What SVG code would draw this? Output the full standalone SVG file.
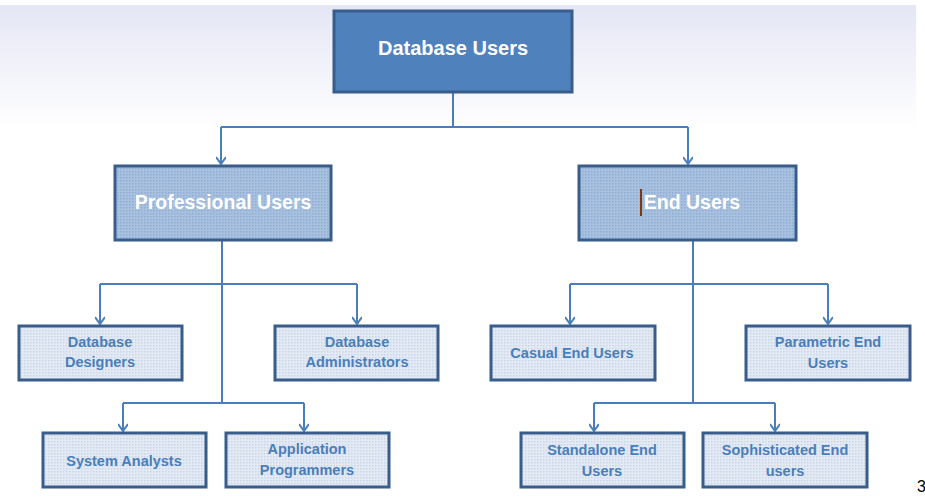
<svg xmlns="http://www.w3.org/2000/svg" width="925" height="500" viewBox="0 0 925 500">
<defs>
<linearGradient id="bg" x1="0" y1="0" x2="0" y2="1">
<stop offset="0" stop-color="#e4e6f5"/>
<stop offset="1" stop-color="#ffffff"/>
</linearGradient>
<pattern id="dotsMid" width="3" height="3" patternUnits="userSpaceOnUse">
<rect width="3" height="3" fill="#a9c1df"/>
<rect width="1.5" height="1.5" fill="#8eadd4"/>
</pattern>
<pattern id="dotsLight" width="3" height="3" patternUnits="userSpaceOnUse">
<rect width="3" height="3" fill="#e3eaf4"/>
<rect width="1.5" height="1.5" fill="#c9d6ea"/>
</pattern>
<marker id="arr" viewBox="0 0 10 10" refX="9" refY="5" markerWidth="10" markerHeight="10" markerUnits="userSpaceOnUse" orient="auto">
<path d="M2,0 L9,5 L2,10" fill="none" stroke="#4a7ebb" stroke-width="2"/>
</marker>
<style>
.top{fill:#4f81bd;stroke:#385d8a;stroke-width:3}
.mid{fill:url(#dotsMid);stroke:#385d8a;stroke-width:3}
.leaf{fill:url(#dotsLight);stroke:#385d8a;stroke-width:3}
.tw{font-family:"Liberation Sans",Arial,sans-serif;font-weight:bold;fill:#ffffff;text-anchor:middle}
.tb{font-family:"Liberation Sans",Arial,sans-serif;font-weight:bold;fill:#4a7ebb;text-anchor:middle;font-size:14.5px}
.c{fill:none;stroke:#4a7ebb;stroke-width:2}
</style>
</defs>
<rect x="0" y="5" width="916" height="125" fill="url(#bg)"/>
<g id="connectors">
<path class="c" d="M453,92 V127"/>
<path class="c" d="M221,127 H688"/>
<path class="c" d="M221,127 V164" marker-end="url(#arr)"/>
<path class="c" d="M688,127 V164" marker-end="url(#arr)"/>
<path class="c" d="M222,240 V403"/>
<path class="c" d="M100,284 H357"/>
<path class="c" d="M100,284 V324" marker-end="url(#arr)"/>
<path class="c" d="M357,284 V324" marker-end="url(#arr)"/>
<path class="c" d="M123,403 H304"/>
<path class="c" d="M123,403 V431" marker-end="url(#arr)"/>
<path class="c" d="M304,403 V431" marker-end="url(#arr)"/>
<path class="c" d="M693,240 V403" stroke-width="2.5"/>
<path class="c" d="M570,284 H828"/>
<path class="c" d="M570,284 V324" marker-end="url(#arr)"/>
<path class="c" d="M828,284 V324" marker-end="url(#arr)"/>
<path class="c" d="M594,403 H775"/>
<path class="c" d="M594,403 V431" marker-end="url(#arr)"/>
<path class="c" d="M775,403 V431" marker-end="url(#arr)"/>
</g>
<g id="database-users">
<rect class="top" x="334" y="11" width="238" height="81"/>
<text class="tw" x="453" y="55" font-size="20">Database Users</text>
</g>
<g id="professional-users">
<rect class="mid" x="115" y="166" width="216" height="74"/>
<text class="tw" x="223" y="209" font-size="19.5">Professional Users</text>
</g>
<g id="end-users">
<rect class="mid" x="579" y="166" width="217" height="74"/>
<line x1="641" y1="189" x2="641" y2="216" stroke="#7a3b12" stroke-width="2"/>
<text class="tw" x="692" y="209" font-size="19.5">End Users</text>
</g>
<g id="database-designers">
<rect class="leaf" x="19" y="326" width="163" height="54"/>
<text class="tb" x="100" y="347">Database</text>
<text class="tb" x="100" y="367">Designers</text>
</g>
<g id="database-administrators">
<rect class="leaf" x="275" y="326" width="163" height="54"/>
<text class="tb" x="357" y="347">Database</text>
<text class="tb" x="357" y="367">Administrators</text>
</g>
<g id="system-analysts">
<rect class="leaf" x="43" y="433" width="163" height="54"/>
<text class="tb" x="124" y="466">System Analysts</text>
</g>
<g id="application-programmers">
<rect class="leaf" x="226" y="433" width="163" height="54"/>
<text class="tb" x="307" y="454">Application</text>
<text class="tb" x="307" y="475">Programmers</text>
</g>
<g id="casual-end-users">
<rect class="leaf" x="491" y="326" width="164" height="54"/>
<text class="tb" x="572" y="358">Casual End Users</text>
</g>
<g id="parametric-end-users">
<rect class="leaf" x="746" y="326" width="164" height="54"/>
<text class="tb" x="828" y="347">Parametric End</text>
<text class="tb" x="828" y="368">Users</text>
</g>
<g id="standalone-end-users">
<rect class="leaf" x="521" y="433" width="163" height="54"/>
<text class="tb" x="602" y="455">Standalone End</text>
<text class="tb" x="602" y="476">Users</text>
</g>
<g id="sophisticated-end-users">
<rect class="leaf" x="703" y="433" width="164" height="54"/>
<text class="tb" x="785" y="455">Sophisticated End</text>
<text class="tb" x="785" y="476">users</text>
</g>
<text x="917" y="492" font-family="Liberation Sans,Arial,sans-serif" font-size="16" fill="#000">3</text>
</svg>
